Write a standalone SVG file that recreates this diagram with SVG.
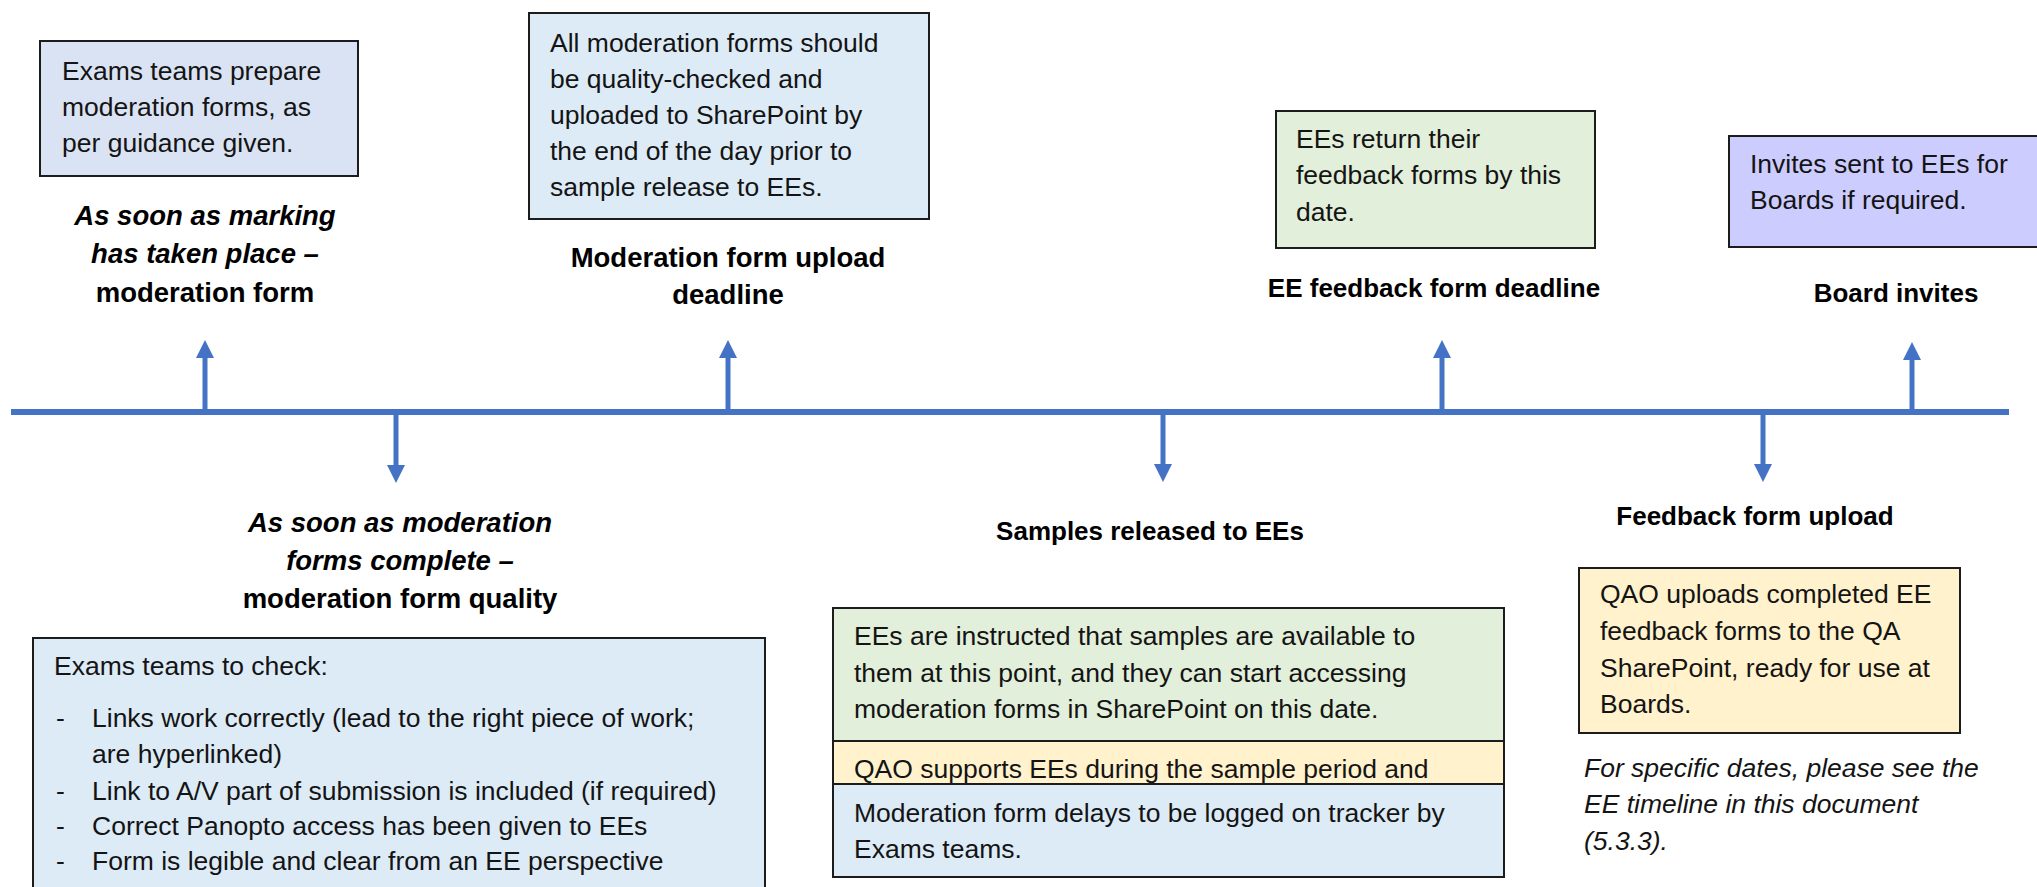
<svg xmlns="http://www.w3.org/2000/svg" width="2037" height="887" viewBox="0 0 2037 887">
  <defs>
    <style>
      .box { stroke: #1c1c1c; stroke-width: 2; }
      .body { font-family: "Liberation Sans", Arial, sans-serif; font-size: 26.5px; fill: #141414; }
      .label { font-family: "Liberation Sans", Arial, sans-serif; font-size: 26px; font-weight: bold; fill: #000; text-anchor: middle; }
      .big { font-size: 27.5px; }
      .it { font-style: italic; }
      .note { font-family: "Liberation Sans", Arial, sans-serif; font-size: 26.5px; font-style: italic; fill: #141414; }
      .axis { stroke: #4472C4; stroke-width: 6; fill: none; }
      .tick { stroke: #4472C4; stroke-width: 5; fill: none; marker-end: url(#head); }
    </style>
    <marker id="head" markerUnits="userSpaceOnUse" markerWidth="18" markerHeight="18" viewBox="0 0 18 18" refX="0" refY="9" orient="auto">
      <path d="M0,0 L18,9 L0,18 Z" fill="#4472C4"/>
    </marker>
  </defs>
  <rect width="2037" height="887" fill="#ffffff"/>

  <!-- timeline and ticks -->
  <g id="connectors">
    <line class="axis" x1="11" y1="412" x2="2009" y2="412"/>
    <line class="tick" x1="205" y1="412" x2="205" y2="358"/>
    <line class="tick" x1="728" y1="412" x2="728" y2="358"/>
    <line class="tick" x1="1442" y1="412" x2="1442" y2="358"/>
    <line class="tick" x1="1912" y1="412" x2="1912" y2="360"/>
    <line class="tick" x1="396" y1="412" x2="396" y2="465"/>
    <line class="tick" x1="1163" y1="412" x2="1163" y2="464"/>
    <line class="tick" x1="1763" y1="412" x2="1763" y2="464"/>
  </g>

  <!-- marking stage -->
  <g id="node-marking">
    <rect class="box" x="40" y="41" width="318" height="135" fill="#DAE3F3"/>
    <text class="body" x="62" y="80">Exams teams prepare</text>
    <text class="body" x="62" y="116">moderation forms, as</text>
    <text class="body" x="62" y="152">per guidance given.</text>
    <text class="label big it" x="205" y="225">As soon as marking</text>
    <text class="label big it" x="205" y="263">has taken place –</text>
    <text class="label big" x="205" y="302">moderation form</text>
  </g>

  <!-- quality check stage -->
  <g id="node-quality">
    <text class="label big it" x="400" y="532">As soon as moderation</text>
    <text class="label big it" x="400" y="570">forms complete –</text>
    <text class="label big" x="400" y="608">moderation form quality</text>
    <rect class="box" x="33" y="638" width="732" height="270" fill="#DDEBF7"/>
    <text class="body" x="54" y="675">Exams teams to check:</text>
    <g class="body">
      <text x="56" y="727">-</text>
      <text x="92" y="727">Links work correctly (lead to the right piece of work;</text>
      <text x="92" y="763">are hyperlinked)</text>
      <text x="56" y="800">-</text>
      <text x="92" y="800">Link to A/V part of submission is included (if required)</text>
      <text x="56" y="835">-</text>
      <text x="92" y="835">Correct Panopto access has been given to EEs</text>
      <text x="56" y="870">-</text>
      <text x="92" y="870">Form is legible and clear from an EE perspective</text>
    </g>
  </g>

  <!-- upload deadline -->
  <g id="node-upload-deadline">
    <rect class="box" x="529" y="13" width="400" height="206" fill="#DDEBF7"/>
    <text class="body" x="550" y="52">All moderation forms should</text>
    <text class="body" x="550" y="88">be quality-checked and</text>
    <text class="body" x="550" y="124">uploaded to SharePoint by</text>
    <text class="body" x="550" y="160">the end of the day prior to</text>
    <text class="body" x="550" y="196">sample release to EEs.</text>
    <text class="label big" x="728" y="267">Moderation form upload</text>
    <text class="label big" x="728" y="304">deadline</text>
  </g>

  <!-- sample release -->
  <g id="node-samples">
    <text class="label" x="1150" y="540">Samples released to EEs</text>
    <rect class="box" x="833" y="608" width="671" height="133" fill="#E2EFDA"/>
    <text class="body" x="854" y="645">EEs are instructed that samples are available to</text>
    <text class="body" x="854" y="682">them at this point, and they can start accessing</text>
    <text class="body" x="854" y="718">moderation forms in SharePoint on this date.</text>
    <rect class="box" x="833" y="741" width="671" height="43" fill="#FFF2CC"/>
    <text class="body" x="854" y="778">QAO supports EEs during the sample period and</text>
    <rect class="box" x="833" y="784" width="671" height="93" fill="#DDEBF7"/>
    <text class="body" x="854" y="822">Moderation form delays to be logged on tracker by</text>
    <text class="body" x="854" y="858">Exams teams.</text>
  </g>

  <!-- EE feedback deadline -->
  <g id="node-feedback-deadline">
    <rect class="box" x="1276" y="111" width="319" height="137" fill="#E2EFDA"/>
    <text class="body" x="1296" y="148">EEs return their</text>
    <text class="body" x="1296" y="184">feedback forms by this</text>
    <text class="body" x="1296" y="221">date.</text>
    <text class="label" x="1434" y="297">EE feedback form deadline</text>
  </g>

  <!-- feedback upload -->
  <g id="node-feedback-upload">
    <text class="label" x="1755" y="525">Feedback form upload</text>
    <rect class="box" x="1579" y="568" width="381" height="165" fill="#FFF2CC"/>
    <text class="body" x="1600" y="603">QAO uploads completed EE</text>
    <text class="body" x="1600" y="640">feedback forms to the QA</text>
    <text class="body" x="1600" y="677">SharePoint, ready for use at</text>
    <text class="body" x="1600" y="713">Boards.</text>
    <text class="note" x="1584" y="777">For specific dates, please see the</text>
    <text class="note" x="1584" y="813">EE timeline in this document</text>
    <text class="note" x="1584" y="850">(5.3.3).</text>
  </g>

  <!-- board invites -->
  <g id="node-board">
    <rect class="box" x="1729" y="136" width="330" height="111" fill="#CCCCFF"/>
    <text class="body" x="1750" y="173">Invites sent to EEs for</text>
    <text class="body" x="1750" y="209">Boards if required.</text>
    <text class="label" x="1896" y="302">Board invites</text>
  </g>
</svg>
